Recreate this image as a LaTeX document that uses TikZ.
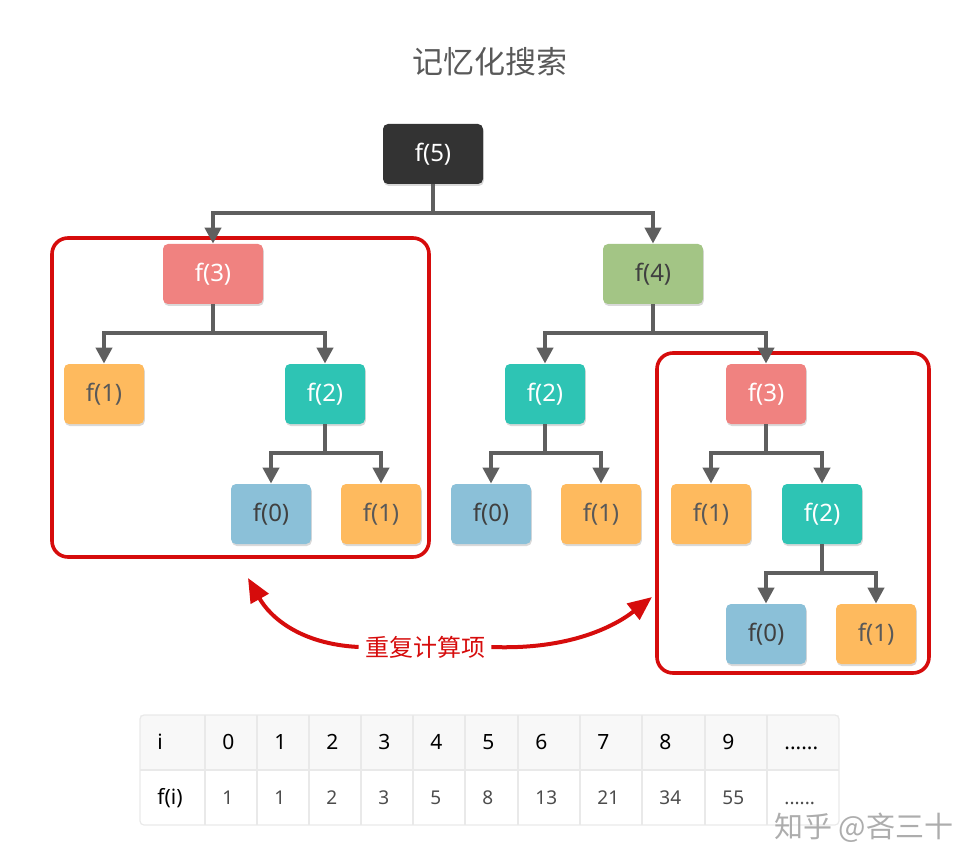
\documentclass[tikz,border=0pt]{standalone}
\usepackage{fontspec}
\setmainfont{Noto Sans}
\newfontfamily\cjk{Noto Sans CJK SC}
\usetikzlibrary{arrows.meta,%
	shadows}
\definecolor{fdark}{RGB}{51,51,51}
\definecolor{fred}{RGB}{240,130,128}
\definecolor{fgreen}{RGB}{163,197,133}
\definecolor{fteal}{RGB}{46,196,180}
\definecolor{forange}{RGB}{254,186,94}
\definecolor{fblue}{RGB}{139,192,216}
\definecolor{edgegray}{RGB}{95,95,95}
\definecolor{markred}{RGB}{214,12,12}
\definecolor{gridgray}{RGB}{233,233,233}
\definecolor{headfill}{RGB}{248,248,248}
\newcommand{\tabdots}{......}

\begin{document}
\begin{tikzpicture}[x=0.5pt,y=-0.5pt]
		\useasboundingbox (0,0) rectangle (980,866);
		\tikzstyle{BoxStyle}=[rounded corners=2.5pt,inner sep=0pt,minimum height=30pt,
			font=\fontsize{12}{14}\selectfont,
			drop shadow={shadow xshift=0.4pt,shadow yshift=-1pt,opacity=0.3}]
		\tikzstyle{BigBox}=[BoxStyle,minimum width=50pt]
		\tikzstyle{SmallBox}=[BoxStyle,minimum width=40pt]
		\tikzstyle{DarkStyle}=[fill=fdark,text=white]
		\tikzstyle{RedStyle}=[fill=fred,text=white]
		\tikzstyle{GreenStyle}=[fill=fgreen,text=black!75]
		\tikzstyle{TealStyle}=[fill=fteal,text=white]
		\tikzstyle{OrangeStyle}=[fill=forange,text=black!65]
		\tikzstyle{BlueStyle}=[fill=fblue,text=black!75]
		\tikzstyle{EdgeStyle}=[draw=edgegray,line width=2pt,-{Triangle[length=8pt,width=8pt]}]
		\tikzstyle{RedBox}=[draw=markred,line width=1.8pt,rounded corners=8pt]
		\tikzstyle{RedArrow}=[draw=markred,line width=2pt,-{Triangle[length=12pt,width=10pt]}]
		\tikzstyle{GridLine}=[draw=gridgray,line width=0.6pt]
		\tikzstyle{HeadText}=[anchor=base west,inner sep=0pt,font=\fontsize{10.5}{12}\selectfont,text=black]
		\tikzstyle{ValText}=[anchor=base west,inner sep=0pt,font=\fontsize{9.5}{12}\selectfont,text=black!70]
		% title
		\node[font=\cjk\fontsize{15.5}{18}\selectfont,text=black!65] (title) at (490,62) {记忆化搜索};
		% repeated parts
		\draw[RedBox] (52,238) rectangle (429,557);
		\draw[RedBox] (657,353) rectangle (929,673);
		% tree
		\node[BigBox,DarkStyle] (f5) at (433,154) {f(5)};
		\node[BigBox,RedStyle] (f3a) at (213,274) {f(3)};
		\node[BigBox,GreenStyle] (f4) at (653,274) {f(4)};
		\node[SmallBox,OrangeStyle] (f1a) at (104,394) {f(1)};
		\node[SmallBox,TealStyle] (f2a) at (325,394) {f(2)};
		\node[SmallBox,BlueStyle] (f0a) at (271,514) {f(0)};
		\node[SmallBox,OrangeStyle] (f1b) at (381,514) {f(1)};
		\node[SmallBox,TealStyle] (f2b) at (545,394) {f(2)};
		\node[SmallBox,BlueStyle] (f0b) at (491,514) {f(0)};
		\node[SmallBox,OrangeStyle] (f1c) at (601,514) {f(1)};
		\node[SmallBox,RedStyle] (f3b) at (766,394) {f(3)};
		\node[SmallBox,OrangeStyle] (f1d) at (711,514) {f(1)};
		\node[SmallBox,TealStyle] (f2c) at (822,514) {f(2)};
		\node[SmallBox,BlueStyle] (f0c) at (766,634) {f(0)};
		\node[SmallBox,OrangeStyle] (f1e) at (876,634) {f(1)};
		\foreach \p/\c in {f5/f3a,f5/f4,f3a/f1a,f3a/f2a,f2a/f0a,f2a/f1b,f4/f2b,f4/f3b,%
			f2b/f0b,f2b/f1c,f3b/f1d,f3b/f2c,f2c/f0c,f2c/f1e}
			\draw[EdgeStyle] (\p.south) -- ++(0,29) -| (\c.north);
		% label with the two arrows
		\node[font=\cjk\fontsize{12}{14}\selectfont,text=markred,inner sep=3pt] (dup) at (425,647) {重复计算项};
		\coordinate (lt) at (248,578);
		\coordinate (rt) at (652,597);
		\draw[RedArrow] (dup.west) .. controls (300,644) and (270,617) .. (lt);
		\draw[RedArrow] (dup.east) .. controls (570,650) and (615,626) .. (rt);
		% table
		\fill[headfill] (140,715) rectangle (839,770);
		\foreach \x in {205,257,309,361,413,465,518,580,642,705,767}
			\draw[GridLine] (\x,715) -- (\x,825);
		\draw[GridLine] (140,770) -- (839,770);
		\draw[GridLine,rounded corners=2pt] (140,715) rectangle (839,825);
		\node[HeadText] (h0) at (157,749) {i};
		\node[HeadText] (v0) at (157,804) {f(i)};
		\foreach \x/\a/\b [count=\k] in {205/0/1,257/1/1,309/2/2,361/3/3,413/4/5,%
			465/5/8,518/6/13,580/7/21,642/8/34,705/9/55,767/\tabdots/\tabdots}
		{
			\node[HeadText] (h\k) at (\x+17,749) {\a};
			\node[ValText] (v\k) at (\x+17,804) {\b};
		}
		% watermark
		\node[anchor=base west,inner sep=0pt,font=\cjk\fontsize{14.5}{16}\selectfont,text=black!32] (mark) at (774,837) {知乎 @吝三十};
\end{tikzpicture}
\end{document}
